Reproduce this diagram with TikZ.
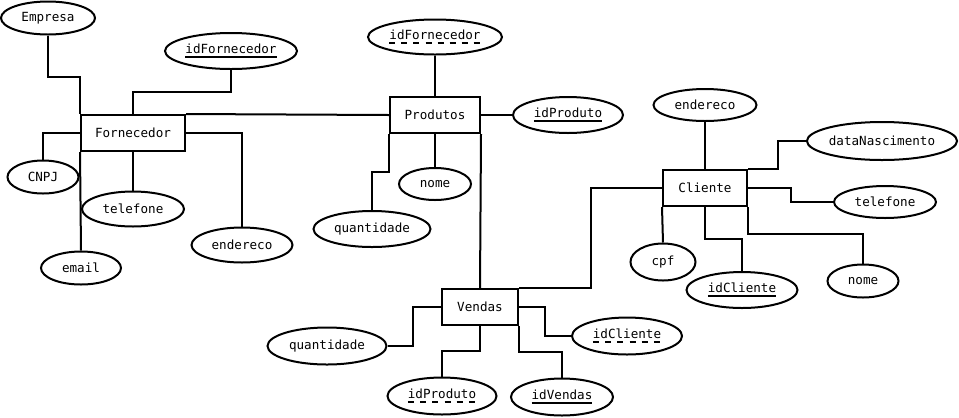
\documentclass[tikz,border=0pt]{standalone}
\usepackage{fontspec}
\setmonofont{DejaVu Sans Mono}
\usetikzlibrary{shapes.geometric}
\newcommand\pkline[1]{\setbox0\hbox{#1}\rlap{\usebox0}\raisebox{-5bp}{\rule{\wd0}{2bp}}}
\newcommand\fkline[1]{\setbox0\hbox{#1}\rlap{\usebox0}\raisebox{-5bp}{\hbox to \wd0{\rule{6bp}{2bp}\xleaders\hbox to 11bp{\hfil\rule{6bp}{2bp}}\hfill}}}
\tikzset{
  ent/.style={draw, rectangle, line width=2bp, inner sep=0pt},
  attr/.style={draw, ellipse, line width=2bp, inner sep=0pt},
  sz/.style 2 args={minimum width=#1bp, minimum height=#2bp},
  conn/.style={line width=2bp},
}
\begin{document}
\begin{tikzpicture}[x=1bp, y=-1bp, font=\ttfamily\fontsize{12.6bp}{15bp}\selectfont]
\fill[white] (0,0) rectangle (959,417);
\useasboundingbox (0,0) rectangle (959,417);
% entities
\node[ent, sz={104}{36}] (forn) at (133,133) {Fornecedor};
\node[ent, sz={90}{36}] (prod) at (435,115) {Produtos};
\node[ent, sz={84}{36}] (cli) at (705,188) {Cliente};
\node[ent, sz={76}{36}] (vend) at (480,307) {Vendas};
% attributes
\node[attr, sz={94}{33}] (emp) at (48,18) {Empresa};
\node[attr, sz={132}{36}] (idf1) at (231,51) {\pkline{idFornecedor}};
\node[attr, sz={71}{33}] (cnpj) at (43,177) {CNPJ};
\node[attr, sz={102}{35}] (tel1) at (133,209) {telefone};
\node[attr, sz={101}{35}] (end1) at (242,245) {endereco};
\node[attr, sz={80}{33}] (email) at (81,268) {email};
\node[attr, sz={134}{35}] (idf2) at (435,37) {\fkline{idFornecedor}};
\node[attr, sz={110}{36}] (idp1) at (568,115) {\pkline{idProduto}};
\node[attr, sz={72}{32}] (nome1) at (435,184) {nome};
\node[attr, sz={117}{36}] (q1) at (372,229) {quantidade};
\node[attr, sz={103}{32}] (end2) at (705,105) {endereco};
\node[attr, sz={149}{38}] (dn) at (882,141) {dataNascimento};
\node[attr, sz={102}{32}] (tel2) at (885,202) {telefone};
\node[attr, sz={65}{37}] (cpf) at (663,262) {cpf};
\node[attr, sz={111}{36}] (idc2) at (742,290) {\pkline{idCliente}};
\node[attr, sz={71}{33}] (nome2) at (863,281) {nome};
\node[attr, sz={119}{37}] (q2) at (327,346) {quantidade};
\node[attr, sz={109}{37}] (idp2) at (442,396) {\fkline{idProduto}};
\node[attr, sz={102}{37}] (idv) at (562,397) {\pkline{idVendas}};
\node[attr, sz={110}{37}] (idc1) at (627,336) {\fkline{idCliente}};
% connectors: Fornecedor
\draw[conn] (emp.south) -- ++(0,41) -| (forn.north west);
\draw[conn] (forn.south west) -- (email.north);
\draw[conn] (idf1.south) -- ++(0,22) -| (forn.north);
\draw[conn] (prod.west) -- (forn.north east);
\draw[conn] (forn.west) -| (cnpj.north);
\draw[conn] (forn.south) -- (tel1.north);
\draw[conn] (forn.east) -| (end1.north);
% Produtos
\draw[conn] (idf2.south) -- (prod.north);
\draw[conn] (prod.east) -- (idp1.west);
\draw[conn] (prod.south) -- (nome1.north);
\draw[conn] (prod.south west) -- ++(0,38) -| (q1.north);
\draw[conn] (prod.south east) -- (vend.north);
% Cliente
\draw[conn] (vend.north east) -- ++(72,0) |- (cli.west);
\draw[conn] (end2.south) -- (cli.north);
\draw[conn] (cli.north east) -- ++(30,0) |- (dn.west);
\draw[conn] (cli.east) -- ++(43,0) |- (tel2.west);
\draw[conn] (cli.south west) -- (cpf.north);
\draw[conn] (cli.south) -- ++(0,32) -| (idc2.north);
\draw[conn] (cli.south east) -- ++(0,27) -| (nome2.north);
% Vendas
\draw[conn] (vend.west) -- ++(-28,0) |- (q2.east);
\draw[conn] (vend.south) -- ++(0,25) -| (idp2.north);
\draw[conn] (vend.south east) -- ++(0,26) -| (idv.north);
\draw[conn] (vend.east) -- ++(26,0) |- (idc1.west);
\end{tikzpicture}
\end{document}
